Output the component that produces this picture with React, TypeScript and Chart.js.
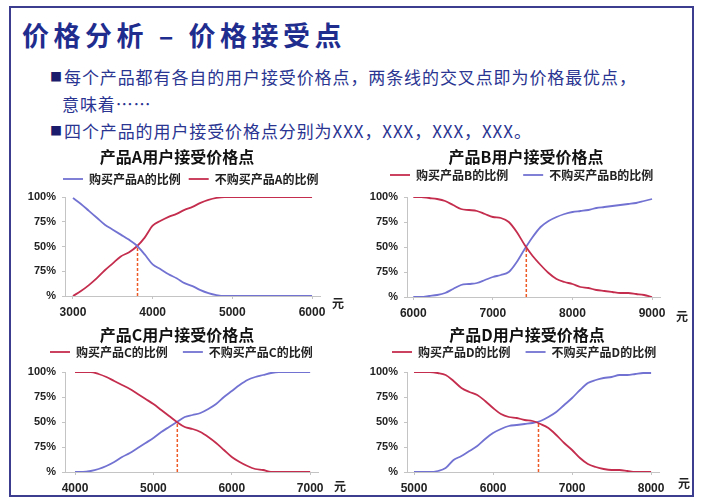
import React, { useEffect, useRef } from "react";
import { Chart, registerables } from "chart.js";

Chart.register(...registerables);

// ---------- data ----------
const pricesA = [3000, 3100, 3200, 3300, 3400, 3500, 3600, 3700, 3800, 3900, 4000, 4100, 4200, 4300, 4400, 4500, 4600, 4700, 4800, 4900, 5000, 5100, 5200, 5300, 5400, 5500, 5600, 5700, 5800, 5900, 6000];
const buyA = [99, 93, 86, 79, 72, 67, 62, 57, 51, 42, 32, 27, 22, 18, 13, 10, 6, 3, 1, 0, 0, 0, 0, 0, 0, 0, 0, 0, 0, 0, 0];
const notBuyA = [0, 5, 11, 18, 26, 33, 40, 44, 50, 59, 71, 76, 80, 83, 87, 90, 94, 97, 99, 100, 100, 100, 100, 100, 100, 100, 100, 100, 100, 100, 100];
const crossA = 3810;
const xTicksA = [3000, 4000, 5000, 6000];

const pricesB = [6000, 6100, 6200, 6300, 6400, 6500, 6600, 6700, 6800, 6900, 7000, 7100, 7200, 7300, 7400, 7500, 7600, 7700, 7800, 7900, 8000, 8100, 8200, 8300, 8400, 8500, 8600, 8700, 8800, 8900, 9000];
const buyB = [100, 100, 99, 98, 96, 92, 88, 87, 86, 83, 80, 79, 75, 65, 52, 41, 32, 24, 18, 15, 13, 10, 9, 7, 6, 5, 4, 4, 3, 2, 0];
const notBuyB = [0, 0, 1, 2, 4, 8, 12, 13, 14, 17, 20, 22, 25, 35, 48, 60, 70, 76, 80, 83, 85, 86, 87, 89, 90, 91, 92, 93, 94, 96, 98];
const crossB = 7420;
const xTicksB = [6000, 7000, 8000, 9000];

const pricesC = [4000, 4100, 4200, 4300, 4400, 4500, 4600, 4700, 4800, 4900, 5000, 5100, 5200, 5300, 5400, 5500, 5600, 5700, 5800, 5900, 6000, 6100, 6200, 6300, 6400, 6500, 6600, 6700, 6800, 6900, 7000];
const buyC = [100, 100, 100, 98, 95, 91, 87, 83, 78, 73, 68, 62, 56, 50, 45, 43, 40, 35, 29, 22, 15, 10, 6, 3, 2, 0, 0, 0, 0, 0, 0];
const notBuyC = [0, 0, 1, 3, 6, 10, 15, 19, 24, 29, 34, 40, 45, 50, 55, 57, 59, 63, 68, 75, 81, 87, 92, 95, 97, 99, 100, 100, 100, 100, 100];
const crossC = 5305;
const xTicksC = [4000, 5000, 6000, 7000];

const pricesD = [5000, 5100, 5200, 5300, 5400, 5500, 5600, 5700, 5800, 5900, 6000, 6100, 6200, 6300, 6400, 6500, 6600, 6700, 6800, 6900, 7000, 7100, 7200, 7300, 7400, 7500, 7600, 7700, 7800, 7900, 8000];
const buyD = [100, 100, 100, 99, 97, 91, 84, 80, 77, 71, 64, 58, 55, 54, 52, 51, 48, 44, 37, 29, 22, 14, 8, 5, 3, 2, 2, 1, 0, 0, 0];
const notBuyD = [0, 0, 0, 1, 4, 12, 16, 21, 26, 33, 39, 43, 46, 47, 48, 49, 51, 55, 60, 67, 74, 82, 89, 92, 94, 95, 97, 97, 98, 99, 99];
const crossD = 6575;
const xTicksD = [5000, 6000, 7000, 8000];

const yTickValues = [0, 25, 50, 75, 100];
const yTickLabels = ["%", "75%", "50%", "75%", "100%"];

// ---------- styles ----------
const BLUE = "#7272d2";
const RED = "#c42d4d";
const DASH = "#ee5a26";
const CJK = "'Noto Sans CJK SC', 'Noto Sans', sans-serif";
const LAT = "'Liberation Sans', 'DejaVu Sans', sans-serif";

type Spec = {
  title: string;
  labels: [string, string];
  colors: [string, string];
  prices: number[];
  s1: number[];
  s2: number[];
  cross: number;
  xTicks: number[];
  xMin: number;
  xMax: number;
  box: { left: number; top: number; width: number; height: number };
  titlePos: [number, number];
  legendPos: [number, number];
  legendPad: number;
  unitPos: [number, number];
};

const specs: Spec[] = [
  {
    title: "产品A用户接受价格点",
    labels: ["购买产品A的比例", "不购买产品A的比例"],
    colors: [BLUE, RED],
    prices: pricesA, s1: buyA, s2: notBuyA, cross: crossA, xTicks: xTicksA,
    xMin: 2900, xMax: 6100,
    box: { left: 12, top: 137, width: 340, height: 185 },
    titlePos: [177, 157], legendPos: [63, 179], legendPad: 8, unitPos: [338, 303],
  },
  {
    title: "产品B用户接受价格点",
    labels: ["购买产品B的比例", "不购买产品B的比例"],
    colors: [RED, BLUE],
    prices: pricesB, s1: buyB, s2: notBuyB, cross: crossB, xTicks: xTicksB,
    xMin: 5921, xMax: 9100,
    box: { left: 354, top: 137, width: 338, height: 186 },
    titlePos: [526, 157], legendPos: [390, 175], legendPad: 15, unitPos: [682, 316],
  },
  {
    title: "产品C用户接受价格点",
    labels: ["购买产品C的比例", "不购买产品C的比例"],
    colors: [RED, BLUE],
    prices: pricesC, s1: buyC, s2: notBuyC, cross: crossC, xTicks: xTicksC,
    xMin: 3872, xMax: 7100,
    box: { left: 12, top: 312, width: 338, height: 186 },
    titlePos: [177, 335], legendPos: [50, 352], legendPad: 15, unitPos: [340, 486],
  },
  {
    title: "产品D用户接受价格点",
    labels: ["购买产品D的比例", "不购买产品D的比例"],
    colors: [RED, BLUE],
    prices: pricesD, s1: buyD, s2: notBuyD, cross: crossD, xTicks: xTicksD,
    xMin: 4911, xMax: 8100,
    box: { left: 354, top: 312, width: 337, height: 186 },
    titlePos: [527, 335], legendPos: [392, 352], legendPad: 15, unitPos: [684, 483],
  },
];

function Panel({ spec }: { spec: Spec }) {
  const ref = useRef<HTMLCanvasElement | null>(null);

  useEffect(() => {
    const canvas = ref.current;
    if (!canvas) return;
    const b = spec.box;
    const legendH = 12 + spec.legendPad + 10;
    const padTop = 60 - 16 - legendH;

    const placer = {
      id: "placer",
      afterLayout(chart: any) {
        const tb = chart.titleBlock;
        if (tb) {
          const cx = spec.titlePos[0] - b.left;
          tb.left = cx - 160;
          tb.right = cx + 160;
          tb.width = 320;
          tb.top = spec.titlePos[1] - b.top - 8;
          tb.bottom = tb.top + 16;
        }
        const lg = chart.legend;
        if (lg) {
          const p = spec.legendPad;
          lg.left = spec.legendPos[0] - b.left - p;
          lg.right = chart.width;
          lg.top = spec.legendPos[1] - b.top - p - 6;
          lg.bottom = lg.top + lg.height;
        }
      },
    };

    const unit = {
      id: "unit",
      afterDraw(chart: any) {
        const ctx = chart.ctx;
        ctx.save();
        ctx.font = `bold 12px ${CJK}`;
        ctx.fillStyle = "#222";
        ctx.textAlign = "center";
        ctx.textBaseline = "middle";
        ctx.fillText("元", spec.unitPos[0] - b.left, spec.unitPos[1] - b.top);
        ctx.restore();
      },
    };

    const chart = new Chart(canvas, {
      type: "line",
      data: {
        datasets: [
          {
            label: spec.labels[0],
            data: spec.prices.map((p, i) => ({ x: p, y: spec.s1[i] })),
            borderColor: spec.colors[0],
            backgroundColor: spec.colors[0],
            borderWidth: 1.8,
            pointRadius: 0,
            cubicInterpolationMode: "monotone",
          },
          {
            label: spec.labels[1],
            data: spec.prices.map((p, i) => ({ x: p, y: spec.s2[i] })),
            borderColor: spec.colors[1],
            backgroundColor: spec.colors[1],
            borderWidth: 1.8,
            pointRadius: 0,
            cubicInterpolationMode: "monotone",
          },
          {
            label: "cross",
            data: [
              { x: spec.cross, y: 0 },
              { x: spec.cross, y: 50 },
            ],
            borderColor: DASH,
            backgroundColor: DASH,
            borderDash: [3, 2],
            borderWidth: 1.5,
            pointRadius: 0,
          },
        ],
      },
      options: {
        responsive: false,
        animation: false,
        devicePixelRatio: 1,
        layout: { padding: { top: padTop, right: 32, bottom: 2, left: 0 } },
        plugins: {
          title: {
            display: true,
            text: spec.title,
            color: "#111",
            padding: 0,
            font: { size: 16, weight: "bold", family: CJK, lineHeight: 1 },
          },
          legend: {
            display: true,
            position: "top",
            align: "start",
            labels: {
              filter: (item: any) => item.datasetIndex < 2,
              usePointStyle: true,
              pointStyle: "line",
              pointStyleWidth: 20,
              padding: spec.legendPad,
              color: "#222",
              font: { size: 12, weight: "bold", family: CJK },
            },
          },
          tooltip: { enabled: false },
        },
        scales: {
          x: {
            type: "linear",
            min: spec.xMin,
            max: spec.xMax,
            afterBuildTicks: (s: any) => {
              s.ticks = spec.xTicks.map((v) => ({ value: v }));
            },
            afterFit: (s: any) => {
              s.height = 24;
            },
            ticks: {
              callback: (v: any) => String(v),
              color: "#222",
              padding: 6,
              maxRotation: 0,
              autoSkip: false,
              font: { size: 12, weight: "bold", family: LAT },
            },
            grid: { display: true, drawOnChartArea: false, tickLength: 3, color: "#c4c4c4" },
            border: { display: true, color: "#c4c4c4" },
          },
          y: {
            min: 0,
            max: 100,
            afterBuildTicks: (s: any) => {
              s.ticks = yTickValues.map((v) => ({ value: v }));
            },
            afterFit: (s: any) => {
              s.width = 53;
            },
            ticks: {
              callback: (v: any) => yTickLabels[yTickValues.indexOf(Number(v))],
              color: "#222",
              padding: 6,
              font: { size: 11, weight: "bold", family: LAT },
            },
            grid: { display: true, drawOnChartArea: false, tickLength: 3, color: "#c4c4c4" },
            border: { display: true, color: "#c4c4c4" },
          },
        },
      },
      plugins: [placer, unit],
    } as any);

    return () => chart.destroy();
  }, [spec]);

  return (
    <canvas
      ref={ref}
      width={spec.box.width}
      height={spec.box.height}
      style={{
        position: "absolute",
        left: spec.box.left,
        top: spec.box.top,
        width: spec.box.width,
        height: spec.box.height,
      }}
    />
  );
}

const bulletStyle: React.CSSProperties = {
  fontSize: 12,
  color: "#1c1c6c",
  marginRight: 2,
  letterSpacing: 0,
  position: "relative",
  top: -2,
};

export default function App() {
  const textBlue = "#2a3592";
  const lineStyle = (left: number, top: number): React.CSSProperties => ({
    position: "absolute",
    left,
    top,
    fontSize: 17,
    lineHeight: "24px",
    letterSpacing: 0.9,
    color: textBlue,
    whiteSpace: "nowrap",
  });
  return (
    <div
      style={{
        position: "fixed",
        left: 0,
        top: 0,
        width: 703,
        height: 502,
        background: "#ffffff",
        overflow: "hidden",
        fontFamily: CJK,
      }}
    >
      <div
        style={{
          position: "absolute",
          left: 9,
          top: 6,
          width: 685,
          height: 491,
          border: "2px solid #3d3d8f",
          boxSizing: "border-box",
        }}
      />
      <div
        style={{
          position: "absolute",
          left: 22,
          top: 18,
          fontSize: 27,
          lineHeight: "34px",
          fontWeight: 700,
          letterSpacing: 4.5,
          color: "#1f2d8f",
          whiteSpace: "nowrap",
        }}
      >
        价格分析 – 价格接受点
      </div>
      <div style={lineStyle(50, 65)}>
        <span style={bulletStyle}>■</span>每个产品都有各自的用户接受价格点，两条线的交叉点即为价格最优点，
      </div>
      <div style={lineStyle(62, 92)}>意味着……</div>
      <div style={lineStyle(50, 119)}>
        <span style={bulletStyle}>■</span>四个产品的用户接受价格点分别为XXX，XXX，XXX，XXX。
      </div>
      {specs.map((s, i) => (
        <Panel key={i} spec={s} />
      ))}
    </div>
  );
}
